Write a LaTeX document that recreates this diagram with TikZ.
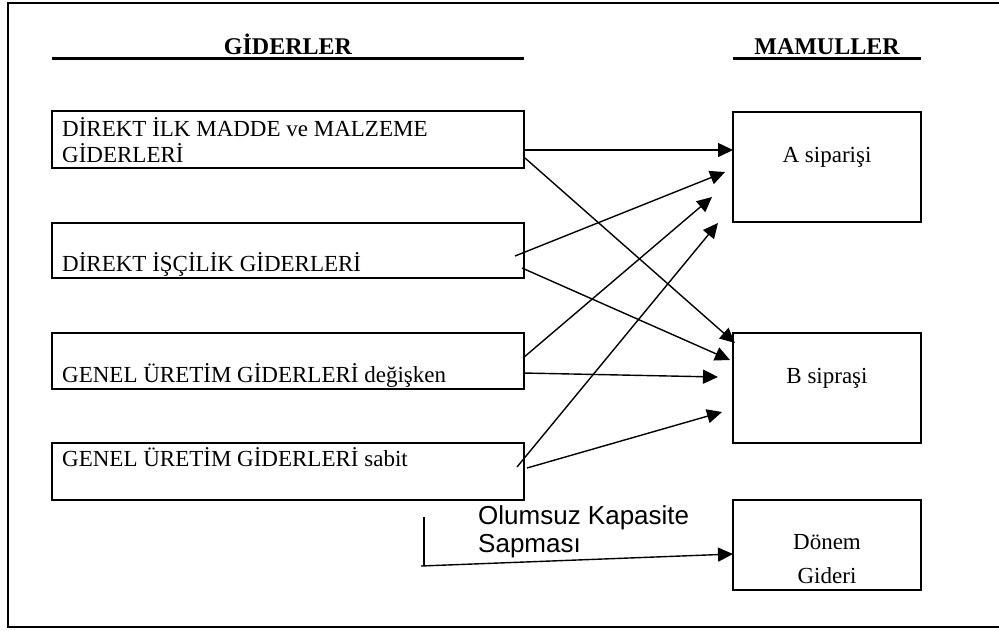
\documentclass[tikz,border=0pt]{standalone}
\usepackage{fontspec}
\setmainfont{Liberation Serif}
\newfontfamily\sansf{Liberation Sans}
\usetikzlibrary{arrows.meta}
\begin{document}
\begin{tikzpicture}[x=1pt,y=-1pt,
  box/.style={draw, line width=2.6pt, inner sep=0pt},
  txt/.style={inner sep=0pt, font=\fontsize{23}{27}\selectfont},
  hdr/.style={inner sep=0pt, font=\fontsize{24}{28}\selectfont\bfseries},
  olum/.style={inner sep=0pt, font=\fontsize{26}{28}\selectfont\sansf},
  arr/.style={line width=1.4pt, -{Triangle[length=15pt,width=14pt]}},
  plain/.style={line width=1.4pt}]
\useasboundingbox (0,0) rectangle (999,630);
% frame
\draw[line width=2.8pt] (999,3) -- (8,3) -- (8,627) -- (999,627);
% headers
\node[hdr, anchor=base] (h1) at (288,54) {GİDERLER};
\node[hdr, anchor=base] (h2) at (827,54) {MAMULLER};
\draw[line width=2.4pt] (52,58.5) -- (524,58.5);
\draw[line width=2.4pt] (733,58.5) -- (921,58.5);
% left boxes
\node[box, minimum width=472pt, minimum height=57pt] (d1) at (288,139.5) {};
\node[box, minimum width=472pt, minimum height=55pt] (d2) at (288,250.5) {};
\node[box, minimum width=472pt, minimum height=56pt] (d3) at (288,361) {};
\node[box, minimum width=472pt, minimum height=57pt] (d4) at (288,471.5) {};
\node[txt, anchor=base west] (t1a) at (62,136) {DİREKT İLK MADDE ve MALZEME};
\node[txt, anchor=base west] (t1b) at (62,162) {GİDERLERİ};
\node[txt, anchor=base west] (t2) at (62,271) {DİREKT İŞÇİLİK GİDERLERİ};
\node[txt, anchor=base west] (t3) at (62,382) {GENEL ÜRETİM GİDERLERİ değişken};
\node[txt, anchor=base west] (t4) at (62,466) {GENEL ÜRETİM GİDERLERİ sabit};
% right boxes
\node[box, minimum width=188pt, minimum height=110pt] (a) at (827,167) {};
\node[box, minimum width=188pt, minimum height=110pt] (b) at (827,388) {};
\node[box, minimum width=188pt, minimum height=90pt] (c) at (827,545) {};
\node[txt, anchor=base] (ta) at (827,162) {A siparişi};
\node[txt, anchor=base] (tb) at (827,383) {B sipraşi};
\node[txt, anchor=base] (tc1) at (827,549) {Dönem};
\node[txt, anchor=base] (tc2) at (827,583) {Gideri};
% Olumsuz label
\node[olum, anchor=base west] (o1) at (478,524) {Olumsuz Kapasite};
\node[olum, anchor=base west] (o2) at (478,552) {Sapması};
% connector end points
\coordinate (s1) at (525,150); \coordinate (e1) at (733,150);
\coordinate (s2) at (525,158); \coordinate (e2) at (735,343);
\coordinate (s3) at (515,256); \coordinate (e3) at (725,172);
\coordinate (s4) at (522,268); \coordinate (e4) at (730,360);
\coordinate (s5) at (523,358); \coordinate (e5) at (712,197);
\coordinate (s6) at (523,373); \coordinate (e6) at (718,377);
\coordinate (s7) at (517,467); \coordinate (e7) at (718,223);
\coordinate (s8) at (527,468); \coordinate (e8) at (722,412);
\coordinate (v1) at (424,517); \coordinate (v2) at (424,566);
\coordinate (s9) at (421,566); \coordinate (e9) at (733,554);
% connectors
\draw[arr] (s1) -- (e1);
\draw[arr] (s2) -- (e2);
\draw[arr] (s3) -- (e3);
\draw[arr] (s4) -- (e4);
\draw[arr] (s5) -- (e5);
\draw[arr] (s6) -- (e6);
\draw[arr] (s7) -- (e7);
\draw[arr] (s8) -- (e8);
\draw[plain] (v1) -- (v2);
\draw[arr] (s9) -- (e9);
\end{tikzpicture}
\end{document}
